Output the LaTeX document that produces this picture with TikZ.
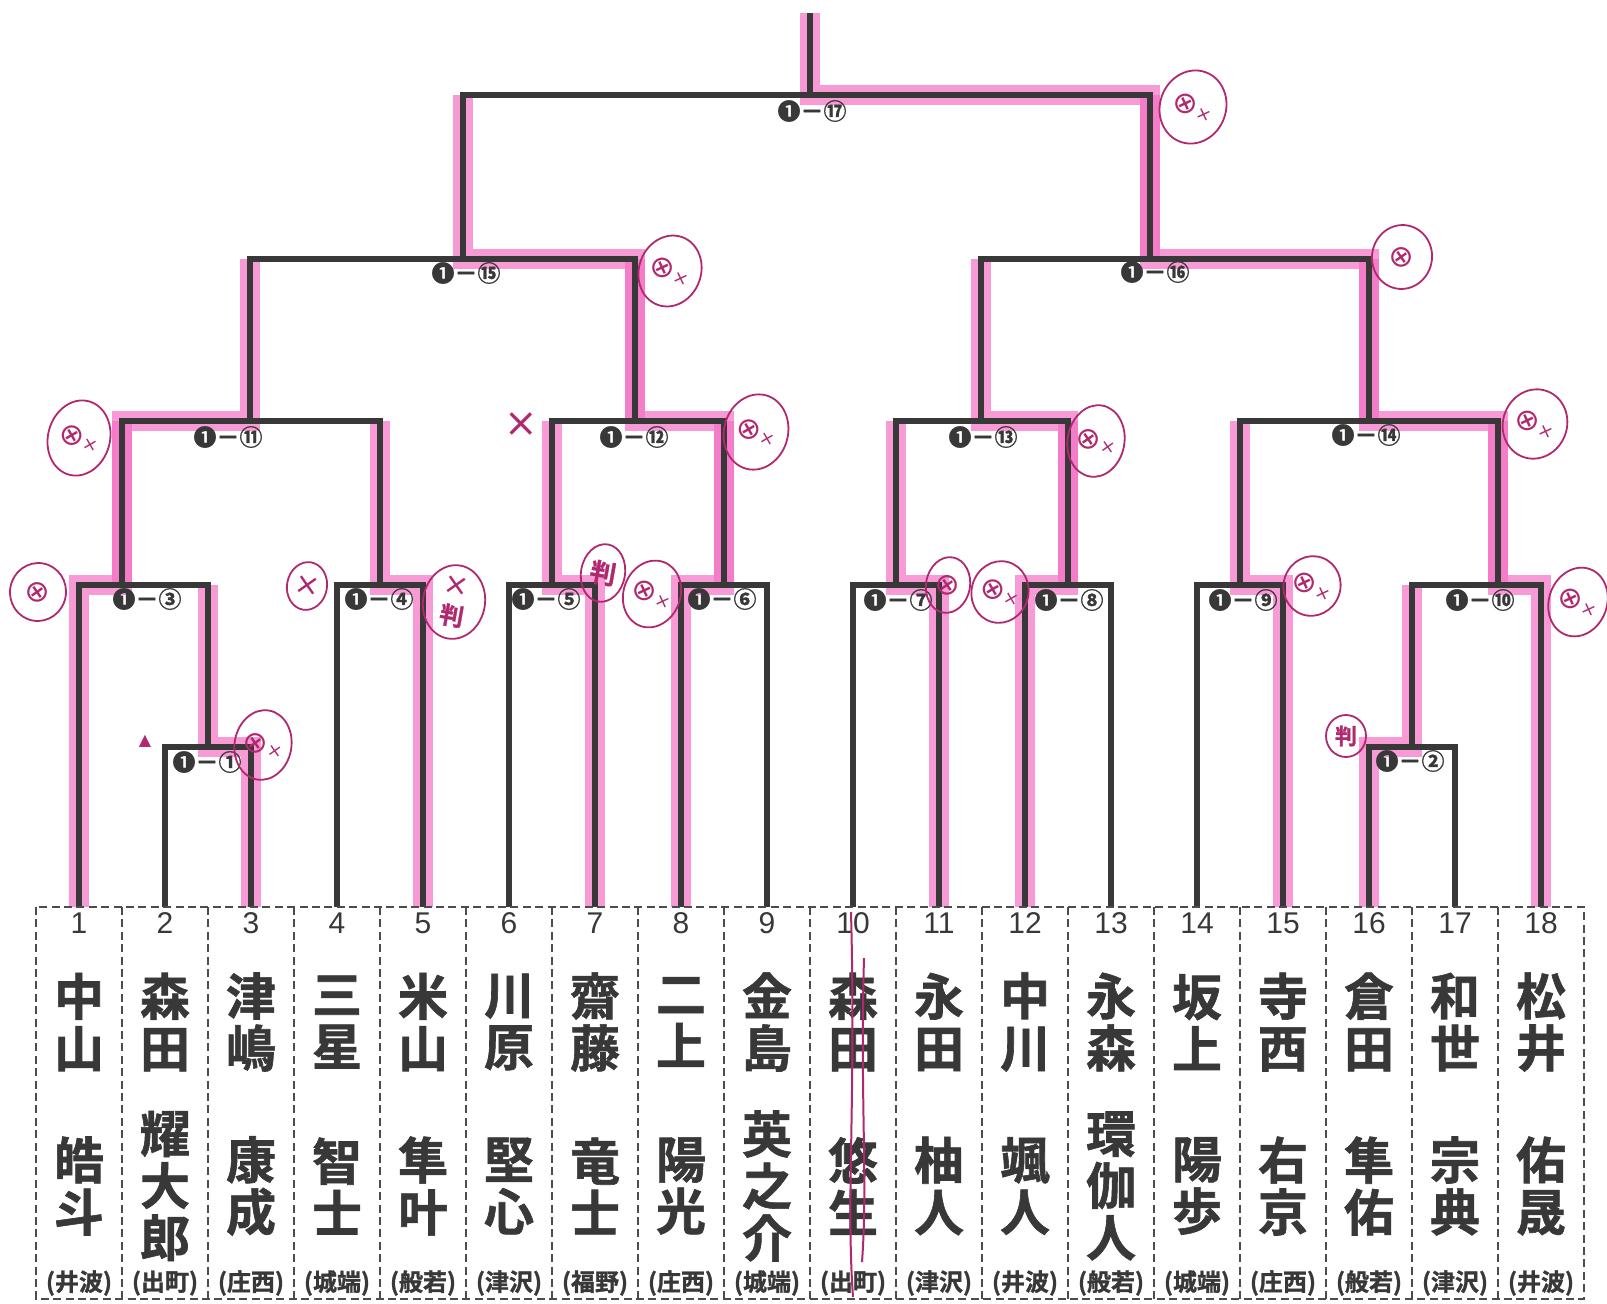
\documentclass[tikz,border=0pt]{standalone}
\usepackage{fontspec}
\setmainfont{Liberation Sans}
\newfontfamily\jpfont{Noto Sans CJK JP Bold}[FakeBold=1.2]
\newfontfamily\symfont{DejaVu Sans}
\usetikzlibrary{shapes.geometric,calc}
\definecolor{InkGray}{HTML}{383838}
\definecolor{MarkerPink}{HTML}{F46FC4}
\definecolor{PenRed}{HTML}{B0286E}
\newcommand{\penox}{⊗{\fontsize{9}{9}\selectfont ×}}

\tikzset{
  bracket/.style={draw=InkGray,line width=3pt,line join=miter},
  hilite/.style={draw=MarkerPink,line width=10pt,opacity=0.7,xshift=2pt,yshift=1pt},
  sheet/.style={draw=InkGray!90,line width=0.9pt,dash pattern=on 4pt off 2.2pt},
  matchlab/.style={font=\jpfont\fontsize{11.5}{11.5}\selectfont,text=InkGray,inner sep=0pt},
  seednum/.style={font=\fontsize{15}{15}\selectfont,text=InkGray,inner sep=0pt},
  namecol/.style={font=\jpfont\fontsize{25}{26}\selectfont,text=InkGray,align=center,inner sep=0pt},
  schoolab/.style={font=\jpfont\fontsize{12}{12}\selectfont,text=InkGray,inner sep=0pt},
  penring/.style={ellipse,draw=PenRed,line width=0.9pt,text=PenRed,inner sep=0pt,
    font=\symfont\fontsize{15}{15}\selectfont},
  penline/.style={draw=PenRed,line width=1pt},
}

\begin{document}
\begin{tikzpicture}[x=0.5pt,y=-0.5pt]
  \useasboundingbox (0,0) rectangle (1607,1303);

  % entry points on top of the sheet
  \foreach \i in {1,...,18}
    \coordinate (p\i) at ({79+86*(\i-1)},907);
  \coordinate (top) at (810,13);
  \foreach \m/\x/\y in {1/208/747,2/1412/747,3/122/585,4/380/585,5/552/585,
      6/724/585,7/896/585,8/1068/585,9/1240/585,10/1498/585,11/250/421,
      12/635/421,13/981/421,14/1369/421,15/463/259,16/1150/259,17/810/95}
    \coordinate (m\m) at (\x,\y);

  % marker over the winners
  \foreach \m/\w/\up in {1/p3/m3,2/p16/m10,3/p1/m11,4/p5/m11,5/p7/m12,6/p8/m12,
      7/p11/m13,8/p12/m13,9/p15/m14,10/p18/m14,11/m3/m15,12/m6/m15,13/m8/m16,
      14/m10/m16,15/m12/m17,16/m14/m17,17/m16/top}
    \draw[hilite] (\w) |- (m\m) -- (m\m |- \up);

  % bracket
  \foreach \m/\l/\r in {1/p2/p3,2/p16/p17,3/p1/m1,4/p4/p5,5/p6/p7,6/p8/p9,
      7/p10/p11,8/p12/p13,9/p14/p15,10/m2/p18,11/m3/m4,12/m5/m6,13/m7/m8,
      14/m9/m10,15/m11/m12,16/m13/m14,17/m15/m16}
    \draw[bracket] (\l) |- (m\m) -| (\r);
  \draw[bracket] (m17) -- (top);

  \foreach \m/\c/\x/\y in {1/①/207/762,2/②/1410/761,3/③/147/599,4/④/379/599,
      5/⑤/546/599,6/⑥/722/599,7/⑦/898/600,8/⑧/1069/600,9/⑨/1243/600,
      10/⑩/1480/600,11/⑪/228/437,12/⑫/634/437,13/⑬/983/437,14/⑭/1366/435,
      15/⑮/466/273,16/⑯/1155/272,17/⑰/812/111}
    \node[matchlab] (lab\m) at (\x,\y) {❶－\c};

  % entry sheet
  \draw[sheet] (36,907) rectangle (1584,1299);
  \foreach \k in {1,...,17}
    \draw[sheet] ({36+86*\k},907) -- ({36+86*\k},1299);

  \foreach \i/\fam/\giv/\sch in {1/中\\山/皓\\斗/井波,2/森\\田/耀\\大\\郎/出町,
      3/津\\嶋/康\\成/庄西,4/三\\星/智\\士/城端,5/米\\山/隼\\叶/般若,
      6/川\\原/堅\\心/津沢,7/齋\\藤/竜\\士/福野,8/二\\上/陽\\光/庄西,
      9/金\\島/英\\之\\介/城端,10/森\\田/悠\\生/出町,11/永\\田/柚\\人/津沢,
      12/中\\川/颯\\人/井波,13/永\\森/環\\伽\\人/般若,14/坂\\上/陽\\歩/城端,
      15/寺\\西/右\\京/庄西,16/倉\\田/隼\\佑/般若,17/和\\世/宗\\典/津沢,
      18/松\\井/佑\\晟/井波}{
    \node[seednum] (num\i) at ({79+86*(\i-1)},923) {\i};
    \node[namecol] (fam\i) at ({79+86*(\i-1)},1022) {\fam};
    \node[namecol] (giv\i) at ({79+86*(\i-1)},1186) {\giv};
    \node[schoolab] (sch\i) at ({79+86*(\i-1)},1283) {(\sch)};
  }

  % pen notes
  \foreach \k/\x/\y/\w/\h/\r/\t in {1/1193/107/33/37/-20/\penox,
      2/670/271/31/36/-20/\penox,3/1402/257/30/32/-10/⊗,4/79/438/31/38/-15/\penox,
      5/756/432/32/38/-15/\penox,6/1096/441/28/36/-10/\penox,
      7/1535/424/32/35/-20/\penox,8/38/592/28/29/-10/⊗,
      9/307/586/20/24/-10/×,10/454/602/31/37/-10/{×\\\jpfont\fontsize{12}{12}\selectfont 判},
      11/603/573/22/29/-10/{\jpfont\fontsize{13}{13}\selectfont 判},
      12/652/594/27/34/-20/\penox,13/948/585/22/28/-10/⊗,14/1000/592/26/31/-15/\penox,
      15/1312/586/25/30/-20/\penox,16/1578/602/29/35/-20/\penox,
      17/263/745/23/35/-10/\penox,18/1346/736/20/21/0/{\jpfont\fontsize{11}{11}\selectfont 判}}
    \node[penring,align=center,minimum width=\w pt,minimum height=\h pt,rotate=\r] (mark\k) at (\x,\y) {\t};
  \node[text=PenRed,inner sep=0pt,font=\symfont\fontsize{8}{8}\selectfont] (tri) at (145,741) {▲};
  \node[text=PenRed,inner sep=0pt,font=\symfont\fontsize{20}{20}\selectfont] (cross) at (521,425) {×};
  \draw[penline] (851,912) .. controls (856,1100) and (846,1200) .. (853,1297);
  \draw[penline] (864,958) .. controls (860,1100) and (868,1180) .. (862,1262);
\end{tikzpicture}
\end{document}
